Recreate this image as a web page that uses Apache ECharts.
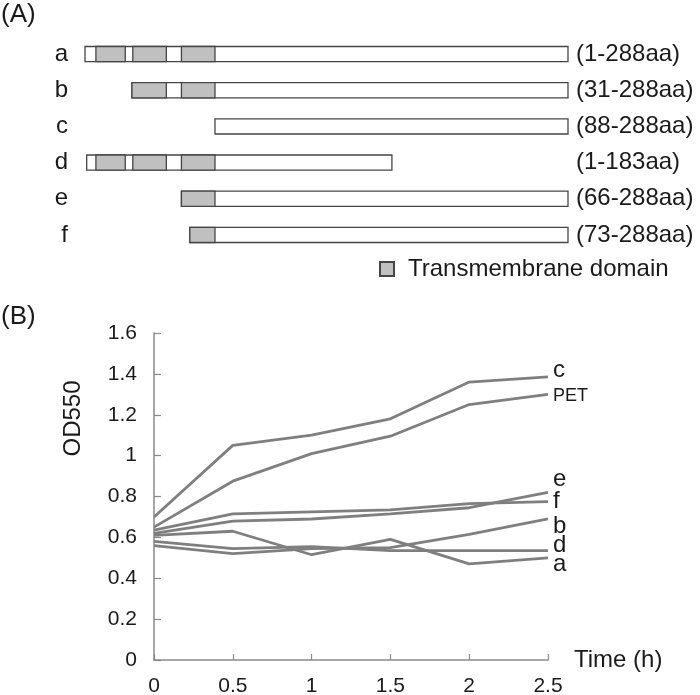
<!DOCTYPE html>
<html>
<head>
<meta charset="utf-8">
<script src="https://cdn.jsdelivr.net/npm/echarts@6/dist/echarts.min.js"></script>
<style>
html,body{margin:0;padding:0;background:#fff;}
#chart{width:700px;height:695px;}
</style>
</head>
<body>
<div id="chart"></div>
<script>
// ---------- Panel A: constructs ----------
const constructs = ['a', 'b', 'c', 'd', 'e', 'f'];
const rangeLabels = ['(1-288aa)', '(31-288aa)', '(88-288aa)', '(1-183aa)', '(66-288aa)', '(73-288aa)'];
// drawn extents along the (schematic) residue axis
const spanStart = [0, 28, 77.5, 1, 57.5, 62.5];
const spanEnd = [288, 288, 288, 183, 288, 288];
const tmSegments = [
  [[6.5, 24], [28.5, 48.5], [57.5, 77.5]],
  [[28, 48.5], [57.5, 77.5]],
  [],
  [[6.5, 24], [28.5, 48.5], [57.5, 77.5]],
  [[57.5, 77.5]],
  [[62.5, 77.5]]
];
const tmLegendName = 'Transmembrane domain';

// ---------- Panel B: growth curves ----------
const timeH = [0, 0.5, 1, 1.5, 2, 2.5];
const odC   = [0.70, 1.05, 1.10, 1.18, 1.36, 1.385];
const odPET = [0.65, 0.875, 1.01, 1.095, 1.25, 1.30];
const odE   = [0.62, 0.68, 0.69, 0.715, 0.745, 0.82];
const odF   = [0.635, 0.715, 0.725, 0.735, 0.765, 0.775];
const odB   = [0.56, 0.52, 0.545, 0.55, 0.615, 0.69];
const odD   = [0.58, 0.545, 0.555, 0.535, 0.535, 0.535];
const odA   = [0.61, 0.63, 0.515, 0.59, 0.47, 0.50];
const lineNames = ['c', 'PET', 'e', 'f', 'b', 'd', 'a'];
const lineValues = [odC, odPET, odE, odF, odB, odD, odA];
const yTicks = [0, 0.2, 0.4, 0.6, 0.8, 1, 1.2, 1.4, 1.6];

// label styling (not data)
const endLabelStyle = {
  c:   {dy: -7, size: 24},
  PET: {dy: 2,  size: 18},
  e:   {dy: -13, size: 24},
  f:   {dy: 0,  size: 24},
  b:   {dy: 7,  size: 24},
  d:   {dy: -5, size: 24},
  a:   {dy: 7,  size: 24}
};

const FONT = '"Liberation Sans", Arial, sans-serif';
const TEXT = '#1a1a1a';
const AXIS = '#8a8a8a';
const LINE = '#7f7f7f';
const BORDER = '#454545';
const TMFILL = '#c0c0c0';

const spanData = constructs.map((c, i) => [spanStart[i], spanEnd[i], i]);
const tmData = [];
tmSegments.forEach((segs, i) => segs.forEach(s => tmData.push([s[0], s[1], i])));

function boxRenderer(fill) {
  return function (params, api) {
    const p0 = api.coord([api.value(0), api.value(2)]);
    const p1 = api.coord([api.value(1), api.value(2)]);
    const h = api.size([0, 1])[1] * 0.42;
    return {
      type: 'rect',
      shape: {x: p0[0], y: p0[1] - h / 2, width: p1[0] - p0[0], height: h},
      style: {fill: fill, stroke: BORDER, lineWidth: 1.3}
    };
  };
}

const chart = echarts.init(document.getElementById('chart'), null, {renderer: 'canvas'});

const series = [
  {
    type: 'custom', name: 'construct', xAxisIndex: 0, yAxisIndex: 0,
    renderItem: boxRenderer('#ffffff'), encode: {x: [0, 1], y: 2},
    data: spanData, silent: true, z: 2
  },
  {
    type: 'custom', name: tmLegendName, xAxisIndex: 0, yAxisIndex: 0,
    renderItem: boxRenderer(TMFILL), encode: {x: [0, 1], y: 2},
    itemStyle: {color: TMFILL, borderColor: BORDER, borderWidth: 1.3},
    data: tmData, silent: true, z: 3
  }
];
lineNames.forEach((n, k) => {
  const st = endLabelStyle[n];
  series.push({
    type: 'line', name: n, xAxisIndex: 1, yAxisIndex: 2,
    data: timeH.map((t, i) => [t, lineValues[k][i]]),
    symbol: 'none', smooth: false, clip: false,
    lineStyle: {color: LINE, width: 2.8},
    itemStyle: {color: LINE},
    endLabel: {
      show: true, formatter: '{a}', distance: 5, offset: [0, st.dy],
      color: TEXT, fontSize: st.size, fontFamily: FONT
    },
    emphasis: {disabled: true}
  });
});

const option = {
  backgroundColor: '#ffffff',
  animation: false,
  title: [
    {text: '(A)', left: 1, top: 2, padding: 0, textStyle: {fontSize: 26, fontWeight: 'normal', color: TEXT, fontFamily: FONT}},
    {text: '(B)', left: 1, top: 304, padding: 0, textStyle: {fontSize: 26, fontWeight: 'normal', color: TEXT, fontFamily: FONT}}
  ],
  legend: {
    data: [{name: tmLegendName, icon: 'rect'}],
    left: 379, top: 257, padding: 0,
    itemWidth: 14, itemHeight: 14,
    selectedMode: false,
    textStyle: {fontSize: 24, color: TEXT, fontFamily: FONT, padding: [0, 0, 0, 9]}
  },
  grid: [
    {left: 85, right: 132, top: 36, height: 217, outerBoundsMode: 'none', containLabel: false},
    {left: 154, right: 152, top: 333, bottom: 35, outerBoundsMode: 'none', containLabel: false}
  ],
  xAxis: [
    {type: 'value', gridIndex: 0, min: 0, max: 288, show: false},
    {
      type: 'value', gridIndex: 1, min: 0, max: 2.5, interval: 0.5,
      name: 'Time (h)', nameLocation: 'end', nameGap: 26,
      nameTextStyle: {fontSize: 24, color: TEXT, fontFamily: FONT},
      axisLine: {show: true, lineStyle: {color: AXIS, width: 1.5}},
      axisTick: {show: true, inside: true, length: 6, lineStyle: {color: AXIS, width: 1.2}},
      axisLabel: {fontSize: 21, color: TEXT, fontFamily: FONT, margin: 16},
      splitLine: {show: false}
    }
  ],
  yAxis: [
    {
      type: 'category', gridIndex: 0, data: constructs, inverse: true,
      axisLine: {show: false}, axisTick: {show: false}, splitLine: {show: false},
      axisLabel: {fontSize: 24, color: TEXT, fontFamily: FONT, margin: 17}
    },
    {
      type: 'category', gridIndex: 0, data: rangeLabels, inverse: true, position: 'right',
      axisLine: {show: false}, axisTick: {show: false}, splitLine: {show: false},
      axisLabel: {fontSize: 24, color: TEXT, fontFamily: FONT, margin: 8}
    },
    {
      type: 'value', gridIndex: 1, min: 0, max: 1.6, interval: 0.2,
      name: 'OD550', nameLocation: 'middle', nameGap: 69,
      nameTextStyle: {fontSize: 24, color: TEXT, fontFamily: FONT, padding: [0, 0, 0, 156]},
      axisLine: {show: true, lineStyle: {color: AXIS, width: 1.5}},
      axisTick: {show: true, inside: true, length: 7, lineStyle: {color: AXIS, width: 1.2}},
      axisLabel: {
        fontSize: 21, color: TEXT, fontFamily: FONT, margin: 17,
        formatter: v => {
          const m = yTicks.find(t => Math.abs(t - v) < 1e-6);
          return String(m !== undefined ? m : v);
        }
      },
      splitLine: {show: false}
    }
  ],
  series: series
};
chart.setOption(option);
</script>
</body>
</html>
